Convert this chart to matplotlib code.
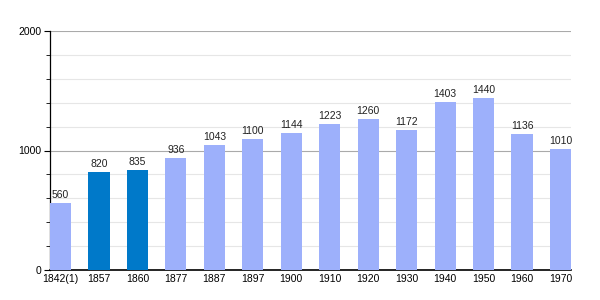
import matplotlib
matplotlib.use("Agg")
import matplotlib.pyplot as plt
from matplotlib.ticker import MultipleLocator

years = ["1842(1)", "1857", "1860", "1877", "1887", "1897", "1900",
         "1910", "1920", "1930", "1940", "1950", "1960", "1970"]
population = [560, 820, 835, 936, 1043, 1100, 1144,
              1223, 1260, 1172, 1403, 1440, 1136, 1010]
highlight = ["1857", "1860"]

LIGHT = "#9db0fb"
DARK = "#0079c9"

plt.rcParams["font.family"] = ["Liberation Sans", "DejaVu Sans"]

fig = plt.figure(figsize=(6, 3), dpi=100)
ax = fig.add_axes([50 / 600, 30 / 300, 521 / 600, 239 / 300])

x = range(len(years))
colors = [DARK if y in highlight else LIGHT for y in years]
bars = ax.bar(x, population, width=0.55, color=colors, zorder=3)
for b, v in zip(bars, population):
    ax.text(b.get_x() + b.get_width() / 2, v + 25, str(v),
            ha="center", va="bottom", fontsize=7.5, color="#222222", zorder=4)

ax.set_xlim(-0.275, len(years) - 1 + 0.275)
ax.set_ylim(0, 2000)
ax.yaxis.set_major_locator(MultipleLocator(1000))
ax.yaxis.set_minor_locator(MultipleLocator(200))
ax.grid(axis="y", which="major", color="#aaaaaa", linewidth=0.8, zorder=1)
ax.grid(axis="y", which="minor", color="#e6e6e6", linewidth=0.8, zorder=0)

ax.set_xticks(list(x))
ax.set_xticklabels(years)
ax.tick_params(axis="x", length=0, labelsize=7.5, pad=3)
ax.tick_params(axis="y", which="major", length=4, labelsize=7.5, pad=2)
ax.tick_params(axis="y", which="minor", length=3)

for side in ("top", "right"):
    ax.spines[side].set_visible(False)
ax.spines["left"].set_linewidth(0.9)
ax.spines["bottom"].set_linewidth(1.2)

fig.savefig("out.png", dpi=100)
